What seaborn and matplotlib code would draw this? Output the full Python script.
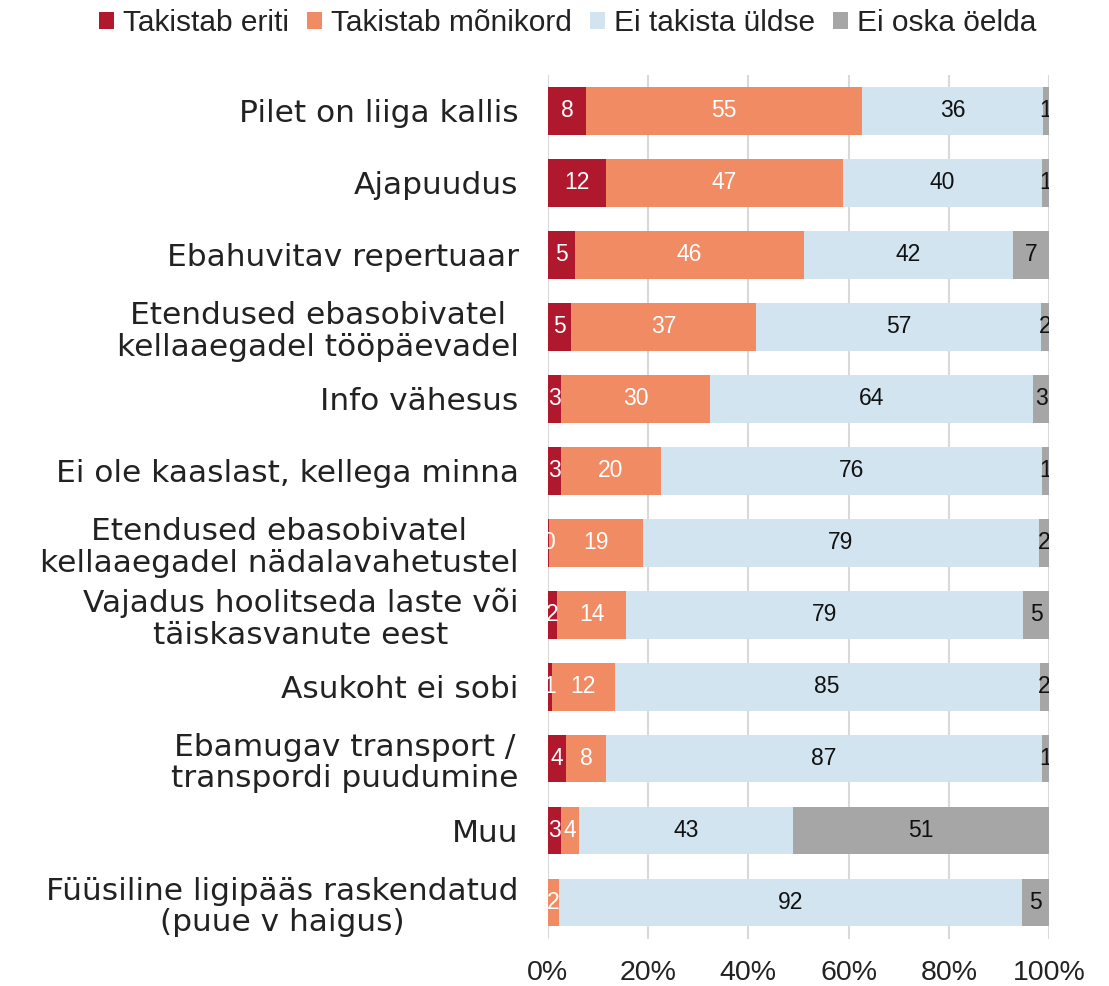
import pandas as pd
import seaborn as sns
import matplotlib.pyplot as plt
from matplotlib.patches import Patch

reasons = [
    'Pilet on liiga kallis',
    'Ajapuudus',
    'Ebahuvitav repertuaar',
    'Etendused ebasobivatel\nkellaaegadel tööpäevadel',
    'Info vähesus',
    'Ei ole kaaslast, kellega minna',
    'Etendused ebasobivatel\nkellaaegadel nädalavahetustel',
    'Vajadus hoolitseda laste või\ntäiskasvanute eest',
    'Asukoht ei sobi',
    'Ebamugav transport /\ntranspordi puudumine',
    'Muu',
    'Füüsiline ligipääs raskendatud\n(puue v haigus)',
]
series = ['Takistab eriti', 'Takistab mõnikord', 'Ei takista üldse', 'Ei oska öelda']
eriti    = [7.6, 11.6, 5.4, 4.6, 2.6, 2.6, 0.3, 1.8, 0.9, 3.6, 2.6, 0.0]
monikord = [55.1, 47.2, 45.7, 37.0, 29.8, 20.0, 18.7, 13.8, 12.4, 8.0, 3.6, 2.2]
ei       = [36.0, 39.8, 41.6, 56.7, 64.4, 76.0, 78.9, 79.2, 84.8, 87.0, 42.8, 92.4]
ei_tea   = [1.3, 1.4, 7.3, 1.7, 3.2, 1.4, 2.1, 5.2, 1.9, 1.4, 51.0, 5.4]
colors = ['#B0182D', '#F08B63', '#D1E4EF', '#A6A6A6']
text_colors = ['white', 'white', '#111111', '#111111']

df = pd.DataFrame({'reason': reasons, series[0]: eriti, series[1]: monikord,
                   series[2]: ei, series[3]: ei_tea})
cum = df[series].cumsum(axis=1)

sns.set_theme(style='white')
plt.rcParams['font.family'] = ['Liberation Sans', 'DejaVu Sans']

fig = plt.figure(figsize=(11.09, 9.86), dpi=100)
ax = fig.add_axes([0.494, 0.048, 0.452, 0.876])

# stacked bars: draw cumulative totals from the longest down
for i in range(3, -1, -1):
    tmp = pd.DataFrame({'reason': reasons, 'v': cum[series[i]]})
    sns.barplot(data=tmp, x='v', y='reason', color=colors[i], width=0.66,
                linewidth=0, errorbar=None, orient='h', ax=ax, saturation=1)

# value labels at segment centres
for i, s in enumerate(series):
    left = cum[s] - df[s]
    for j in range(len(reasons)):
        v = df[s][j]
        if v <= 0:
            continue
        ax.text(left[j] + v / 2, j, f'{v:.0f}', ha='center', va='center',
                fontsize=16.5, color=text_colors[i], clip_on=True, zorder=5)

ax.set_xlim(0, 100)
ax.set_ylim(len(reasons) - 0.5, -0.5)
ax.set_xticks([0, 20, 40, 60, 80, 100])
ax.set_xticklabels(['0%', '20%', '40%', '60%', '80%', '100%'])
ax.set_xlabel('')
ax.set_ylabel('')
ax.xaxis.grid(True, color='#D9D9D9', linewidth=1.5)
ax.set_axisbelow(True)
for sp in ax.spines.values():
    sp.set_visible(False)
ax.tick_params(axis='x', length=0, pad=15, labelsize=20.5, labelcolor='#222222')
ax.tick_params(axis='y', length=0, pad=21, labelcolor='#222222')
for t in ax.get_yticklabels():
    t.set_multialignment('center')
    t.set_fontfamily(['DejaVu Sans'])
    t.set_fontsize(22.5)
    t.set_linespacing(1.12)

handles = [Patch(facecolor=c, edgecolor='none') for c in colors]
fig.legend(handles, series, loc='upper center', bbox_to_anchor=(0.512, 1.018),
           ncol=4, frameon=False, fontsize=21.5, handlelength=0.5, handleheight=0.5,
           handletextpad=0.3, columnspacing=0.6, labelcolor='#222222')

fig.savefig('out.png', dpi=100)
